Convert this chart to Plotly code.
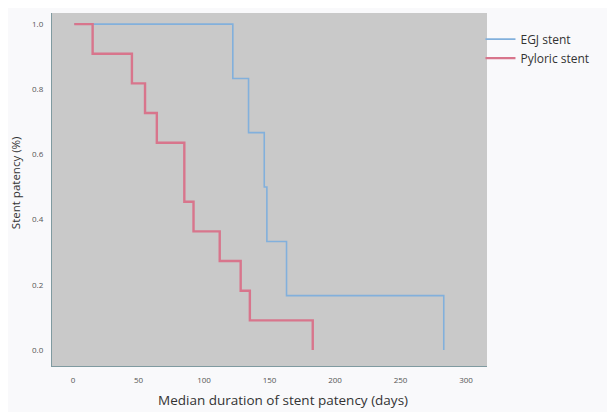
import plotly.graph_objects as go

# Data
egj_days = [1, 122, 134, 146, 148, 163, 283]
egj_surv = [1.0, 0.833, 0.667, 0.5, 0.333, 0.167, 0.0]

pyl_days = [1, 15, 45, 55, 64, 85, 92, 112, 128, 135, 183]
pyl_surv = [1.0, 0.909, 0.818, 0.727, 0.636, 0.455, 0.364, 0.273, 0.182, 0.091, 0.0]

x_ticks = [0, 50, 100, 150, 200, 250, 300]
y_ticks = [0.0, 0.2, 0.4, 0.6, 0.8, 1.0]

x_title = "Median duration of stent patency (days)"
y_title = "Stent patency (%)"

fig = go.Figure()
fig.add_trace(go.Scatter(x=egj_days, y=egj_surv, mode="lines", line_shape="hv",
                         name="EGJ stent", line=dict(color="#82b0dc", width=1.6)))
fig.add_trace(go.Scatter(x=pyl_days, y=pyl_surv, mode="lines", line_shape="hv",
                         name="Pyloric stent", line=dict(color="#d8758c", width=2.4)))

# page body adds an 8px margin, so the figure is sized to fill the rest
fig.update_layout(
    width=607, height=404,
    margin=dict(l=44, r=128, t=5, b=46),
    paper_bgcolor="#f9f9fb",
    plot_bgcolor="#c9c9c9",
    font=dict(family="Open Sans, Noto Sans, sans-serif", color="#333"),
    showlegend=True,
    legend=dict(x=0.985, y=0.967, xanchor="left", yanchor="top",
                bgcolor="rgba(0,0,0,0)", font=dict(size=12, color="#333"),
                itemwidth=30, tracegroupgap=0),
    xaxis=dict(range=[-16, 316], tickvals=x_ticks, ticks="", showgrid=False,
               zeroline=False, showline=True, linecolor="#7f9aa0", linewidth=1.2,
               tickfont=dict(size=8, color="#555"), ticklabelstandoff=6,
               automargin=False),
    yaxis=dict(range=[-0.049, 1.034], tickvals=y_ticks, tickformat=".1f", ticks="",
               showgrid=False, zeroline=False, showline=True, linecolor="#7f9aa0",
               linewidth=1.2, tickfont=dict(size=8, color="#555"), ticklabelstandoff=6,
               automargin=False),
)

fig.add_annotation(text=x_title, xref="paper", yref="paper", x=0.531, y=0,
                   xanchor="center", yanchor="middle", yshift=-34, showarrow=False,
                   font=dict(size=13.5, color="#333"))
fig.add_annotation(text=y_title, xref="paper", yref="paper", x=0, y=0.518,
                   xanchor="center", yanchor="middle", xshift=-37, textangle=-90,
                   showarrow=False, font=dict(size=11.5, color="#333"))

fig.write_html("out.html")
